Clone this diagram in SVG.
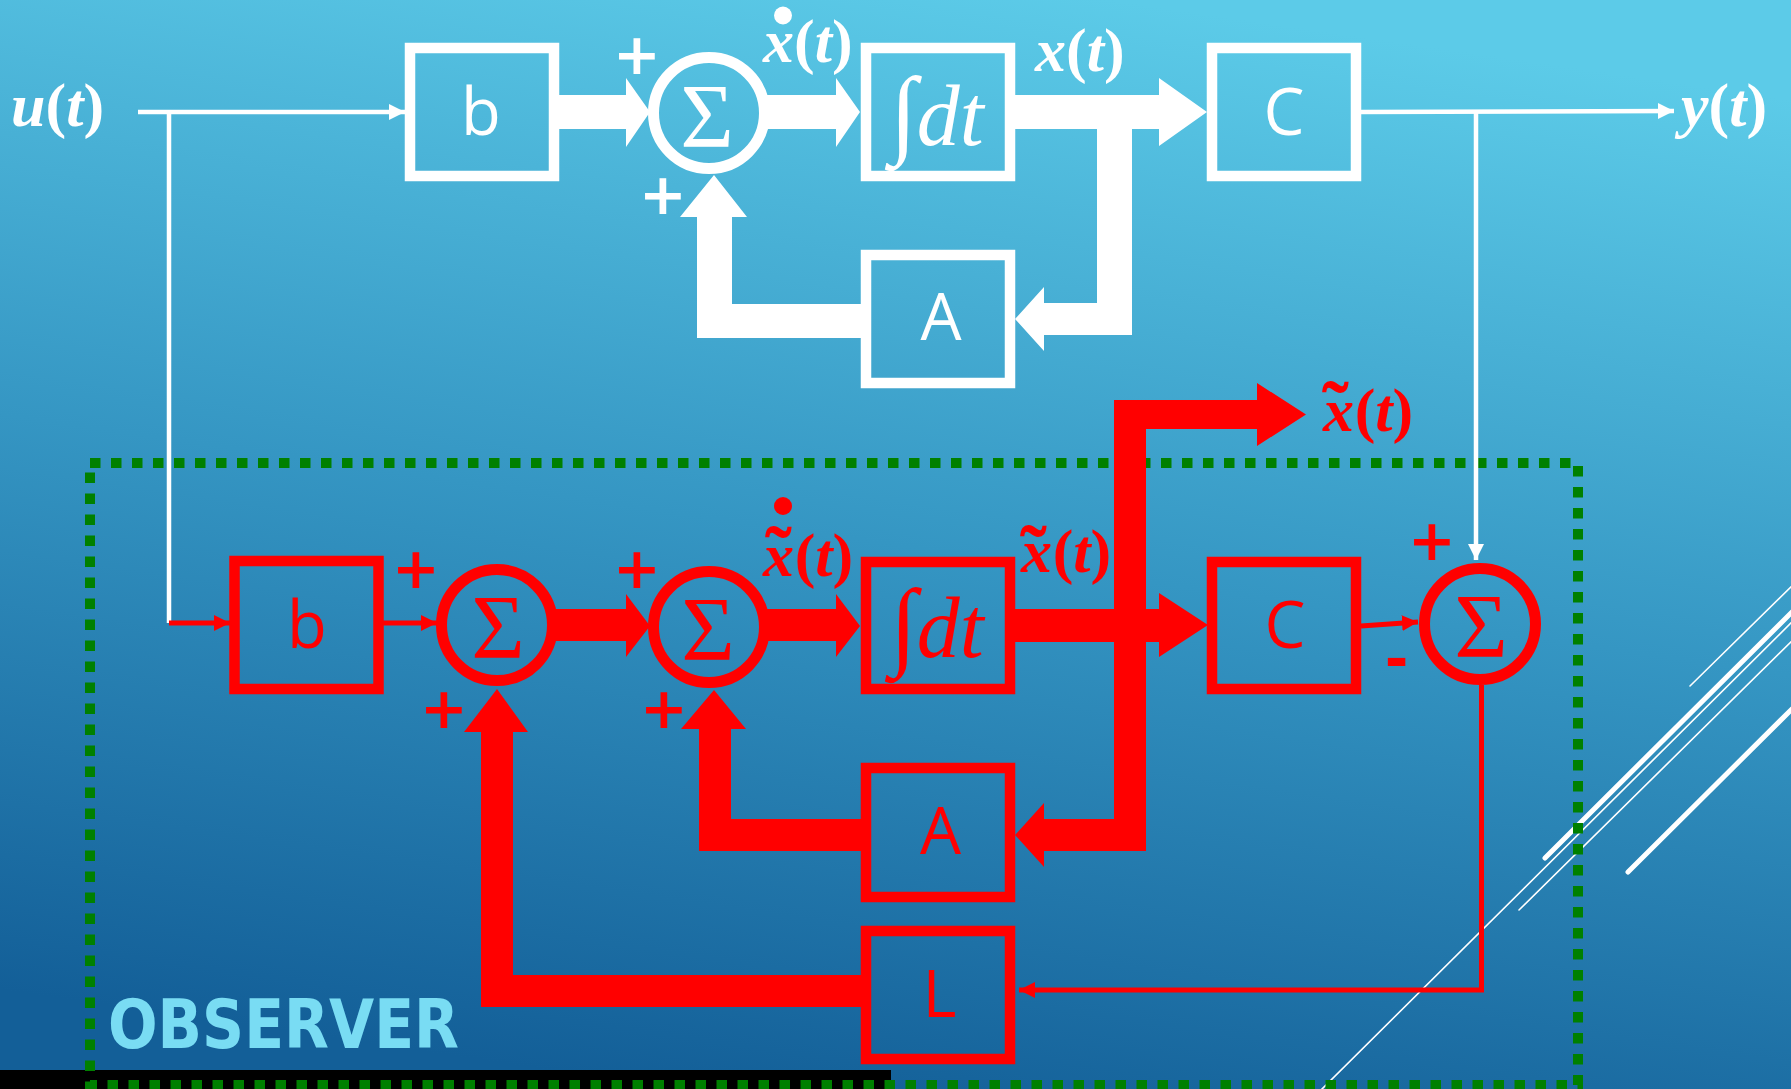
<svg xmlns="http://www.w3.org/2000/svg" width="1791" height="1089" viewBox="0 0 1791 1089">
<defs>
<linearGradient id="bg" x1="0.62" y1="0" x2="0.38" y2="1">
<stop offset="0" stop-color="#5ccbe8"/>
<stop offset="0.5" stop-color="#3596c3"/>
<stop offset="1" stop-color="#135f98"/>
</linearGradient>
<marker id="aw" markerUnits="userSpaceOnUse" markerWidth="17" markerHeight="17" refX="16" refY="8" orient="auto"><path d="M0,0 L16,8 L0,16 z" fill="#fff"/></marker>
<marker id="ar" markerUnits="userSpaceOnUse" markerWidth="17" markerHeight="17" refX="16" refY="8" orient="auto"><path d="M0,0 L16,8 L0,16 z" fill="#f00"/></marker>
<style>
.box{fill:none;stroke-width:10.5}
.w{stroke:#fff}
.r{stroke:#f00}
.sum{fill:none;stroke-width:11}
.lbl{font-family:"Open Sans","DejaVu Sans",sans-serif;font-size:65px;text-anchor:middle}
.sig{font-family:"Liberation Serif","Times New Roman",serif;font-size:92px;text-anchor:middle}
.m{font-family:"Liberation Serif","Times New Roman",serif;font-size:62px;font-weight:bold}
.i{font-style:italic}
.tl{font-size:80px;font-style:normal}
.int{font-family:"Liberation Serif","Times New Roman",serif;font-size:86px}
.ig{font-size:98px}
.pm{font-family:"DejaVu Sans",sans-serif;font-weight:bold;font-size:57px;text-anchor:middle}
.thin{fill:none;stroke-width:4.5}
.thinr{fill:none;stroke-width:5}
.fw{fill:#fff}
.fr{fill:#f00}
.tw{fill:#fff}
.tr{fill:#f00}
.deco{stroke:#fff;fill:none;stroke-linecap:round}
</style>
</defs>
<rect x="0" y="0" width="1791" height="1089" fill="url(#bg)"/>
<g id="decor">
<line class="deco" x1="1545" y1="858" x2="1800" y2="604" stroke-width="5"/>
<line class="deco" x1="1321" y1="1090" x2="1800" y2="614" stroke-width="1.6"/>
<line class="deco" x1="1519" y1="910" x2="1800" y2="633" stroke-width="1.6"/>
<line class="deco" x1="1690" y1="686" x2="1800" y2="578" stroke-width="1.6"/>
<line class="deco" x1="1628" y1="872" x2="1800" y2="701" stroke-width="5"/>
<rect x="0" y="1070" width="891" height="19" fill="#000"/>
</g>
<g id="observer">
<rect x="90" y="463" width="1488" height="622" fill="none" stroke="#008000" stroke-width="10" stroke-dasharray="10.5 10.5"/>
<text x="108" y="1048" font-family="'DejaVu Sans',sans-serif" font-weight="bold" font-size="67" fill="#79dcf3" textLength="351" lengthAdjust="spacingAndGlyphs">OBSERVER</text>
</g>
<g id="connectors">
<polyline class="thin w" points="138,112 405,112" marker-end="url(#aw)"/>
<polyline class="thin w" points="169,112 169,623"/>
<polyline class="thinr r" points="169,623 230,623" marker-end="url(#ar)"/>
<polyline class="thin w" points="1361,112 1674,111" marker-end="url(#aw)"/>
<polyline class="thin w" points="1476,112 1476,560" marker-end="url(#aw)"/>
<polygon class="fw" points="555,95 626,95 626,78 650,112 626,147 626,129 555,129"/>
<polygon class="fw" points="765,95 836,95 836,78 860,112 836,147 836,129 765,129"/>
<polygon class="fw" points="1010,95 1159,95 1159,78 1207,112 1159,146 1159,129 1132,129 1132,335 1044,335 1044,351 1015,319 1044,287 1044,303 1097,303 1097,129 1010,129"/>
<polygon class="fw" points="866,304 732,304 732,217 747,217 714,175 680,217 697,217 697,338 866,338"/>
<polyline class="thinr r" points="383,623 437,623" marker-end="url(#ar)"/>
<polygon class="fr" points="553,609 626,609 626,594 650,626 626,657 626,641 553,641"/>
<polygon class="fr" points="765,609 836,609 836,594 860,626 836,657 836,641 765,641"/>
<polygon class="fr" points="1010,609 1159,609 1159,593 1208,625 1159,657 1159,642 1010,642"/>
<polygon class="fr" points="1114,819 1114,400 1257,400 1257,383 1306,414.5 1257,446 1257,429 1146,429 1146,851 1044,851 1044,867 1015,835 1044,803 1044,819"/>
<polygon class="fr" points="866,819 731,819 731,729 746,729 714,690 681,729 699,729 699,851 866,851"/>
<polygon class="fr" points="866,975 513,975 513,732 528,732 497,689 464,732 481,732 481,1007 866,1007"/>
<polyline class="thinr r" points="1361,626 1418,622" marker-end="url(#ar)"/>
<polyline class="thinr r" points="1481.5,685 1481.5,990 1019,990" marker-end="url(#ar)"/>
</g>
<g id="labels">
<text class="m tw" x="11" y="126"><tspan class="i">u</tspan>(<tspan class="i">t</tspan>)</text>
<text class="m tw" x="763" y="62"><tspan class="i">x</tspan>(<tspan class="i">t</tspan>)</text>
<circle cx="783" cy="15.5" r="9" fill="#fff"/>
<text class="m tw" x="1035" y="71"><tspan class="i">x</tspan>(<tspan class="i">t</tspan>)</text>
<text class="m tw" x="1681" y="126"><tspan class="i">y</tspan>(<tspan class="i">t</tspan>)</text>
<text class="m tr" x="763" y="576"><tspan class="i">x</tspan><tspan class="tl" dx="-29" dy="6">˜</tspan><tspan dx="3" dy="-6">(</tspan><tspan class="i">t</tspan>)</text>
<circle cx="783" cy="506" r="9" fill="#f00"/>
<text class="m tr" x="1020" y="572"><tspan class="i">x</tspan><tspan class="tl" dx="-32" dy="9">˜</tspan><tspan dx="6" dy="-9">(</tspan><tspan class="i">t</tspan>)</text>
<text class="m tr" x="1322" y="431"><tspan class="i">x</tspan><tspan class="tl" dx="-32" dy="6">˜</tspan><tspan dx="6" dy="-6">(</tspan><tspan class="i">t</tspan>)</text>
<text class="pm tw" x="637" y="74">+</text>
<text class="pm tw" x="663" y="214">+</text>
<text class="pm tr" x="416" y="588">+</text>
<text class="pm tr" x="444" y="728">+</text>
<text class="pm tr" x="637" y="588">+</text>
<text class="pm tr" x="664" y="728">+</text>
<text class="pm tr" x="1432" y="560">+</text>
<text class="pm tr" x="1396.5" y="678" font-size="64">-</text>
</g>
<g id="b-top"><rect class="box w" x="410" y="48" width="144" height="128"/><text class="lbl tw" x="481" y="135">b</text></g>
<g id="sum-top"><circle class="sum w" cx="709" cy="113" r="55.5"/><text class="sig tw" x="707" y="147">Σ</text></g>
<g id="int-top"><rect class="box w" x="866" y="48" width="144" height="128"/><text class="tw int" x="890" y="145"><tspan class="ig">∫</tspan><tspan class="i">dt</tspan></text></g>
<g id="c-top"><rect class="box w" x="1212" y="48" width="144" height="128"/><text class="lbl tw" x="1284" y="135">C</text></g>
<g id="a-top"><rect class="box w" x="866" y="255" width="144" height="128"/><text class="lbl tw" x="941" y="340">A</text></g>
<g id="b-obs"><rect class="box r" x="234.5" y="561" width="144" height="128"/><text class="lbl tr" x="307" y="648">b</text></g>
<g id="sum1-obs"><circle class="sum r" cx="497" cy="625" r="55.5"/><text class="sig tr" x="498" y="658">Σ</text></g>
<g id="sum2-obs"><circle class="sum r" cx="709" cy="627" r="55.5"/><text class="sig tr" x="708" y="660">Σ</text></g>
<g id="int-obs"><rect class="box r" x="866" y="562" width="144" height="127"/><text class="tr int" x="890" y="657"><tspan class="ig">∫</tspan><tspan class="i">dt</tspan></text></g>
<g id="c-obs"><rect class="box r" x="1212" y="562" width="144" height="127"/><text class="lbl tr" x="1285" y="648">C</text></g>
<g id="sum3-obs"><circle class="sum r" cx="1480" cy="624" r="55.5"/><text class="sig tr" x="1481" y="657">Σ</text></g>
<g id="a-obs"><rect class="box r" x="866" y="768" width="144" height="129"/><text class="lbl tr" x="940.5" y="854">A</text></g>
<g id="l-obs"><rect class="box r" x="866" y="931" width="144" height="128"/><text class="lbl tr" x="939.5" y="1017">L</text></g>
</svg>
